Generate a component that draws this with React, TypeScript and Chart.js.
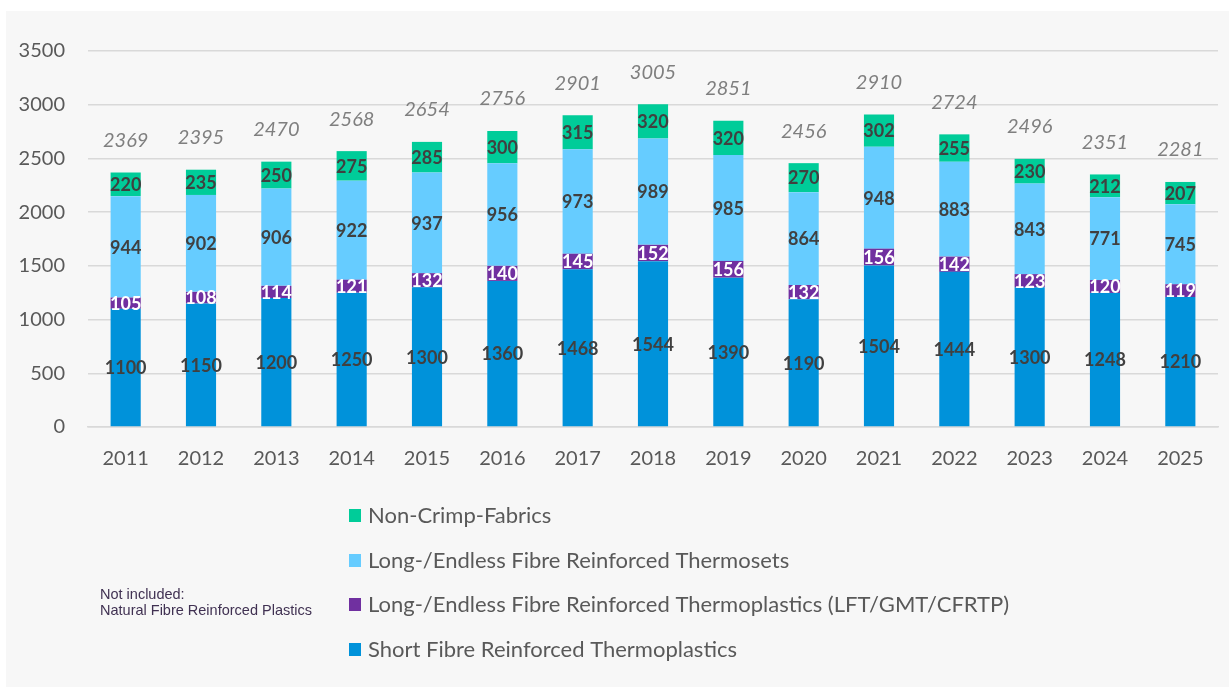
import React, { useEffect, useRef } from "react";
import { Chart, registerables } from "chart.js";

Chart.register(...registerables);

const years = ["2011","2012","2013","2014","2015","2016","2017","2018","2019","2020","2021","2022","2023","2024","2025"];
const shortFibre = [1100,1150,1200,1250,1300,1360,1468,1544,1390,1190,1504,1444,1300,1248,1210];
const longThermoplastics = [105,108,114,121,132,140,145,152,156,132,156,142,123,120,119];
const longThermosets = [944,902,906,922,937,956,973,989,985,864,948,883,843,771,745];
const nonCrimp = [220,235,250,275,285,300,315,320,320,270,302,255,230,212,207];
const totals = [2369,2395,2470,2568,2654,2756,2901,3005,2851,2456,2910,2724,2496,2351,2281];
const yTicks = [0,500,1000,1500,2000,2500,3000,3500];
const noteLines = ["Not included:", "Natural Fibre Reinforced Plastics"];

const FONT = "Lato, 'Open Sans', sans-serif";

const valueLabels = {
  id: "valueLabels",
  afterDatasetsDraw(chart: any) {
    const ctx = chart.ctx;
    ctx.save();
    ctx.textAlign = "center";
    ctx.textBaseline = "middle";
    chart.data.datasets.forEach((ds: any, di: number) => {
      const meta = chart.getDatasetMeta(di);
      meta.data.forEach((bar: any, i: number) => {
        const cy = (bar.y + bar.base) / 2;
        ctx.font = `bold 18px ${FONT}`;
        ctx.fillStyle = di === 1 ? "#ffffff" : "#404040";
        ctx.fillText(String(ds.data[i]), bar.x, cy + 1);
      });
    });
    const topMeta = chart.getDatasetMeta(chart.data.datasets.length - 1);
    topMeta.data.forEach((bar: any, i: number) => {
      ctx.font = `italic 20px ${FONT}`;
      ctx.fillStyle = "#7f7f7f";
      ctx.fillText(String(totals[i]), bar.x, bar.y - 32);
    });
    ctx.restore();
  },
};

const customLegend = {
  id: "customLegend",
  afterDraw(chart: any) {
    const ctx = chart.ctx;
    ctx.save();
    const order = [3, 2, 1, 0];
    const ys = [505, 550, 594, 639];
    order.forEach((di, k) => {
      const ds = chart.data.datasets[di];
      ctx.fillStyle = ds.backgroundColor;
      ctx.fillRect(343, ys[k] - 7, 12, 13);
      ctx.font = `22px ${FONT}`;
      ctx.fillStyle = "#595959";
      ctx.textAlign = "left";
      ctx.textBaseline = "middle";
      ctx.fillText(ds.label, 362, ys[k]);
    });
    ctx.font = "14.5px 'Liberation Sans', Arial, sans-serif";
    ctx.fillStyle = "#403152";
    ctx.textBaseline = "middle";
    noteLines.forEach((t, k) => ctx.fillText(t, 94, 584 + k * 16));
    ctx.restore();
  },
};

export default function App() {
  const ref = useRef<HTMLCanvasElement>(null);
  useEffect(() => {
    document.body.style.margin = "0";
    const chart = new Chart(ref.current!, {
      type: "bar",
      data: {
        labels: years,
        datasets: [
          { label: "Short Fibre Reinforced Thermoplastics", data: shortFibre, backgroundColor: "#0092DA" },
          { label: "Long-/Endless Fibre Reinforced Thermoplastics (LFT/GMT/CFRTP)", data: longThermoplastics, backgroundColor: "#7030A0" },
          { label: "Long-/Endless Fibre Reinforced Thermosets", data: longThermosets, backgroundColor: "#66CCFF" },
          { label: "Non-Crimp-Fabrics", data: nonCrimp, backgroundColor: "#00CC99" },
        ],
      },
      options: {
        animation: false,
        responsive: true,
        maintainAspectRatio: false,
        layout: { padding: { left: 12, top: 40, right: 11, bottom: 196 } },
        datasets: { bar: { barPercentage: 0.4, categoryPercentage: 1.0 } },
        plugins: { legend: { display: false }, tooltip: { enabled: false } },
        scales: {
          x: {
            stacked: true,
            grid: { display: false, drawTicks: false },
            border: { color: "#d9d9d9", width: 1.5 },
            ticks: { color: "#595959", font: { family: FONT, size: 20 }, padding: 20 },
          },
          y: {
            stacked: true,
            min: 0,
            max: 3500,
            afterBuildTicks: (axis: any) => { axis.ticks = yTicks.map((v) => ({ value: v })); },
            afterFit: (axis: any) => { axis.width = 70; },
            grid: { color: "#d9d9d9", lineWidth: 1.5, drawTicks: false },
            border: { display: false },
            ticks: { color: "#595959", font: { family: FONT, size: 20 }, padding: 23, callback: (v: any) => String(v) },
          },
        },
      },
      plugins: [valueLabels, customLegend],
    });
    return () => chart.destroy();
  }, []);
  return (
    <div style={{ position: "relative", width: 1229, height: 687, background: "#ffffff" }}>
      <div style={{ position: "absolute", left: 6, top: 11, width: 1223, height: 676, background: "#f7f7f7" }}>
        <canvas ref={ref} />
      </div>
    </div>
  );
}
